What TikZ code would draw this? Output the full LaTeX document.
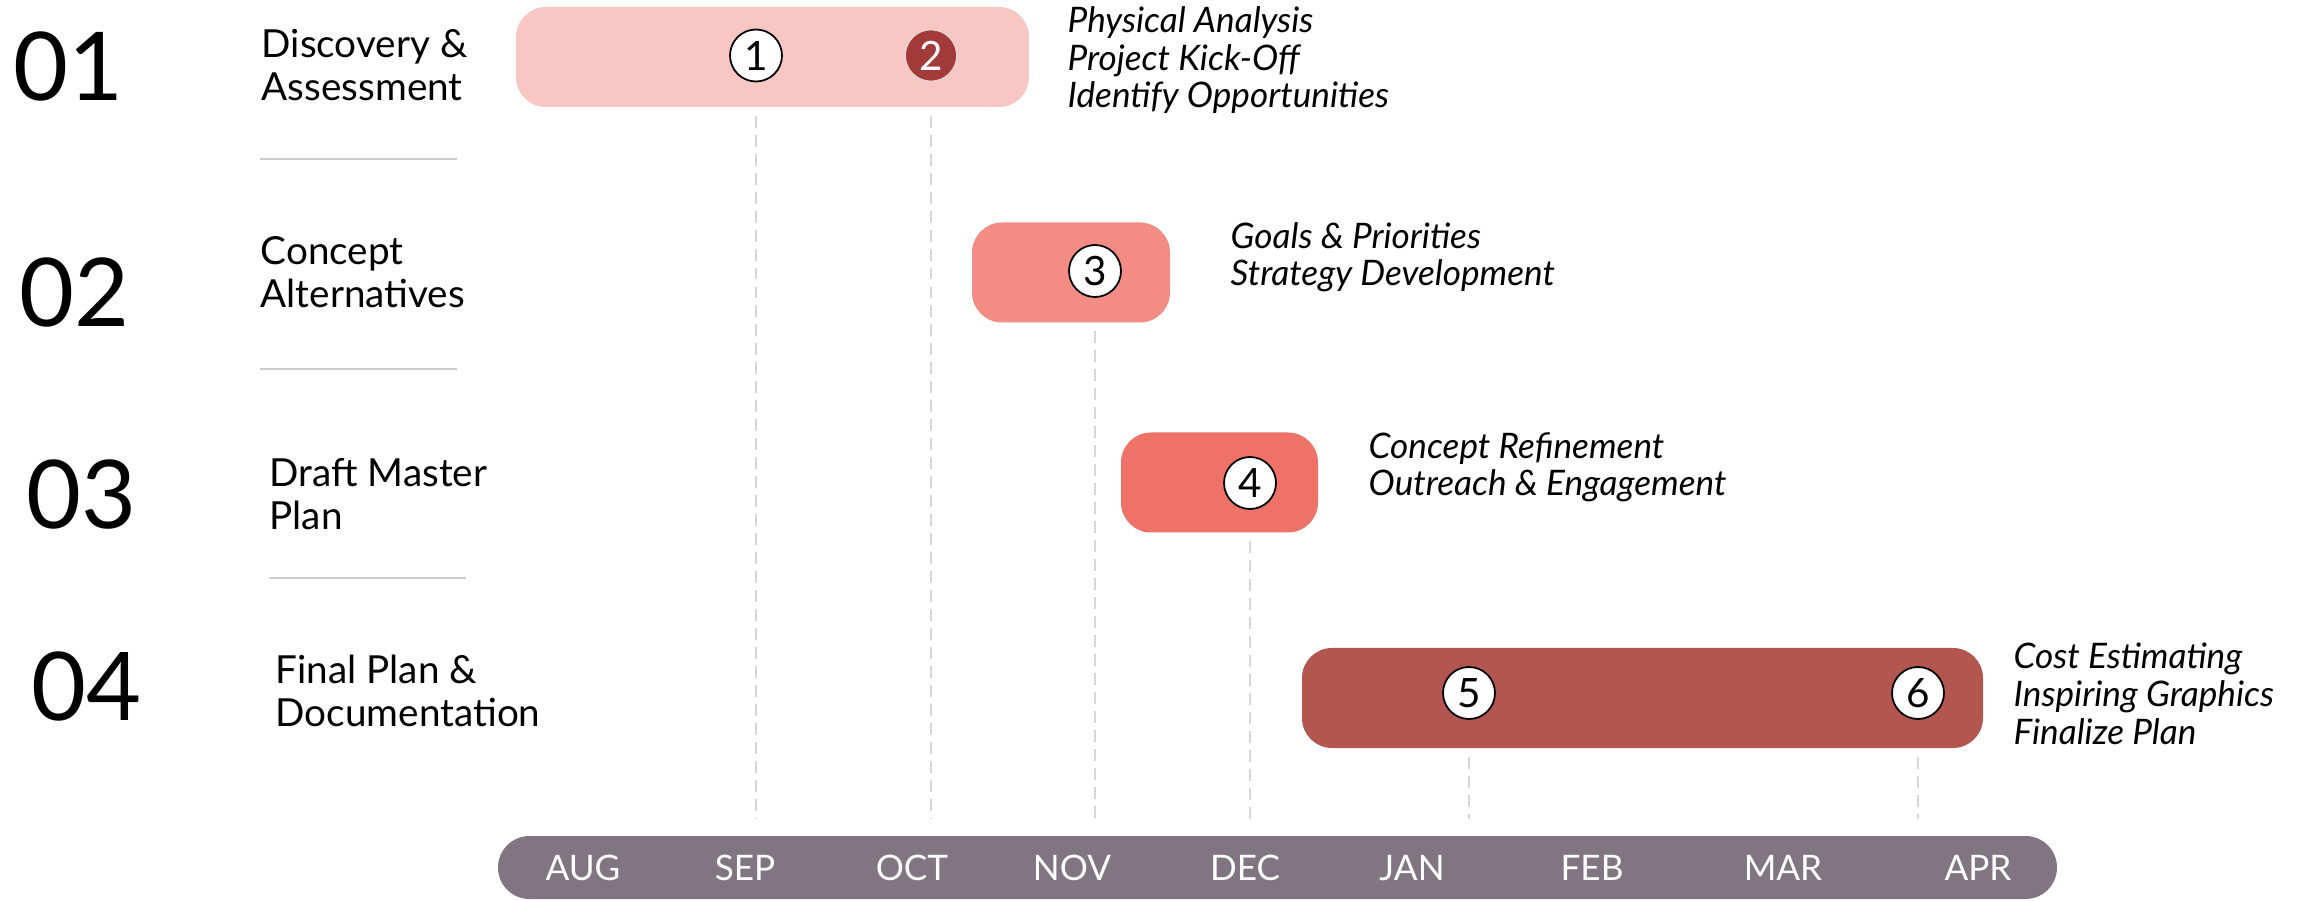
\documentclass[tikz,border=0pt]{standalone}
\usepackage{fontspec}
\setmainfont{Lato}
\usepackage{xcolor}
\usepackage{tikz}
\usetikzlibrary{calc}
\usetikzlibrary{positioning}

\definecolor{phaseone}{HTML}{F8C6C3}
\definecolor{phasetwo}{HTML}{F38C85}
\definecolor{phasethree}{HTML}{EF7268}
\definecolor{phasefour}{HTML}{B3564F}
\definecolor{wine}{HTML}{A33A3A}
\definecolor{slate}{HTML}{807580}
\definecolor{guidegray}{HTML}{D6D6D6}
\definecolor{rulegray}{HTML}{CCCCCC}

\begin{document}
\begin{tikzpicture}[x=1cm,y=1cm,
	phasebar/.style={rectangle,rounded corners=0.3cm,inner sep=0pt,minimum height=1cm},
	stopdot/.style={circle,draw=black,line width=0.5pt,fill=white,inner sep=0pt,minimum size=0.52cm,font=\fontsize{11.5}{12}\selectfont},
	bignum/.style={anchor=west,inner sep=0pt,font=\fontsize{27}{30}\selectfont},
	phase/.style={anchor=base west,inner sep=0pt,align=left,font=\fontsize{11}{12.5}\selectfont},
	task/.style={anchor=base west,inner sep=0pt,align=left,font=\fontsize{10}{10.8}\selectfont\itshape},
	month/.style={text=white,inner sep=0pt,font=\fontsize{10}{12}\selectfont},
	guide/.style={draw=guidegray,line width=0.5pt,dash pattern=on 3.4pt off 2pt},
	sepline/.style={draw=rulegray,line width=0.6pt}]
	\useasboundingbox (0,0) rectangle (23.05,-9.01);

	% phase numbers and names (base = last line)
	\node[bignum] (n1) at (0.13,-0.66) {01};
	\node[bignum] (n2) at (0.19,-2.92) {02};
	\node[bignum] (n3) at (0.26,-4.95) {03};
	\node[bignum] (n4) at (0.31,-6.86) {04};
	\node[phase] (lab1) at (2.61,-1.01) {Discovery \&\\Assessment};
	\node[phase] (lab2) at (2.60,-3.08) {Concept\\Alternatives};
	\node[phase] (lab3) at (2.69,-5.30) {Draft Master\\Plan};
	\node[phase] (lab4) at (2.75,-7.27) {Final Plan \&\\Documentation};
	\draw[sepline] (2.60,-1.59) -- (4.57,-1.59);
	\draw[sepline] (2.60,-3.69) -- (4.57,-3.69);
	\draw[sepline] (2.69,-5.78) -- (4.66,-5.78);

	% month axis
	\node[phasebar,fill=slate,rounded corners=0.315cm,minimum width=15.59cm,minimum height=0.63cm] (axis) at (12.775,-8.675) {};
	\foreach \mon/\mx in {AUG/5.83,SEP/7.45,OCT/9.12,NOV/10.72,DEC/12.45,JAN/14.12,FEB/15.92,MAR/17.83,APR/19.78}
		\node[month] (m\mon) at (\mx,-8.68) {\mon};

	% bars
	\node[phasebar,fill=phaseone,minimum width=5.13cm] (bar1) at (7.725,-0.57) {};
	\node[phasebar,fill=phasetwo,minimum width=1.98cm] (bar2) at (10.71,-2.725) {};
	\node[phasebar,fill=phasethree,minimum width=1.97cm] (bar3) at (12.195,-4.825) {};
	\node[phasebar,fill=phasefour,minimum width=6.81cm] (bar4) at (16.425,-6.98) {};

	\node[stopdot] (c1) at (7.56,-0.555) {1};
	\node[stopdot,fill=wine,draw=white!75!wine,text=white] (c2) at (9.31,-0.555) {2};
	\node[stopdot] (c3) at (10.95,-2.71) {3};
	\node[stopdot] (c4) at (12.50,-4.83) {4};
	\node[stopdot] (c5) at (14.69,-6.93) {5};
	\node[stopdot] (c6) at (19.18,-6.93) {6};

	\foreach \c/\b in {c1/bar1,c2/bar1,c3/bar2,c4/bar3,c5/bar4,c6/bar4}
		\draw[guide] ($(\c |- \b.south)+(0,-0.08)$) -- ($(\c |- axis.north)+(0,0.16)$);

	% tasks
	\node[task] (t1) at (10.67,-1.08) {Physical Analysis\\Project Kick-Off\\Identify Opportunities};
	\node[task] (t2) at (12.30,-2.86) {Goals \& Priorities\\Strategy Development};
	\node[task] (t3) at (13.68,-4.96) {Concept Refinement\\Outreach \& Engagement};
	\node[task] (t4) at (20.13,-7.44) {Cost Estimating\\Inspiring Graphics\\Finalize Plan};
\end{tikzpicture}
\end{document}
